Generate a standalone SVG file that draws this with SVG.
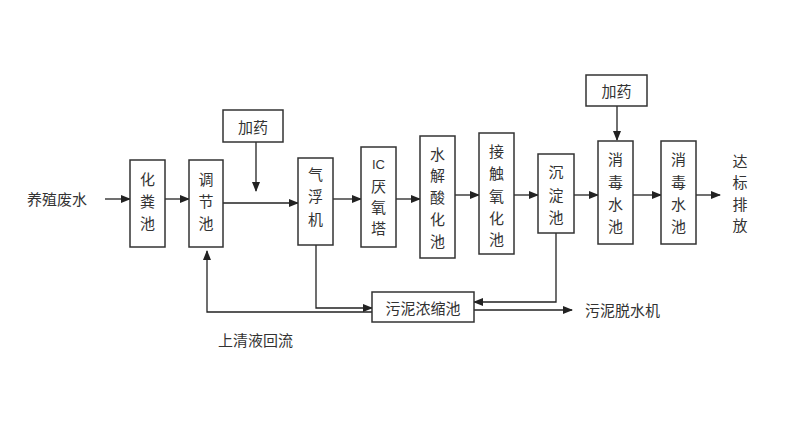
<svg xmlns="http://www.w3.org/2000/svg" width="800" height="434" viewBox="0 0 800 434">
<defs>
<marker id="ah" markerWidth="10" markerHeight="8" refX="9" refY="4" orient="auto" markerUnits="userSpaceOnUse">
<path d="M0,0 L10,4 L0,8 Z" fill="#222"/>
</marker>
<style>
.box{fill:#fff;stroke:#333;stroke-width:1.5}
.t{font-family:"Noto Sans CJK SC","Noto Sans CJK JP",sans-serif;font-size:15px;fill:#333;text-anchor:middle;dominant-baseline:central}
.tl{font-family:"Noto Sans CJK SC","Noto Sans CJK JP",sans-serif;font-size:15px;fill:#333;dominant-baseline:central}
.c{fill:none;stroke:#222;stroke-width:1.3;marker-end:url(#ah)}
.l{fill:none;stroke:#222;stroke-width:1.3}
</style>
</defs>
<rect width="800" height="434" fill="#fff"/>
<g id="connectors">
<path class="c" d="M105,199 H130"/>
<path class="c" d="M165,199 H189"/>
<path class="c" d="M223,203 H298"/>
<path class="c" d="M256,142 V191"/>
<path class="c" d="M333,199 H361"/>
<path class="c" d="M396,199 H420"/>
<path class="c" d="M455,195 H479"/>
<path class="c" d="M514,195 H538"/>
<path class="c" d="M574,195 H598"/>
<path class="c" d="M617,106 V140"/>
<path class="c" d="M633,195 H661"/>
<path class="c" d="M696,195 H720"/>
<path class="c" d="M316,245 V308 H372"/>
<path class="c" d="M556,233 V302 H474"/>
<path class="c" d="M474,310 H572"/>
<path class="c" d="M372,312 H207 V251"/>
</g>
<g id="src"><text class="tl" x="27" y="198">养殖废水</text></g>
<g id="n1"><rect class="box" x="130" y="160" width="35" height="87"/>
<text class="t" x="147.5" y="178">化</text><text class="t" x="147.5" y="200">粪</text><text class="t" x="147.5" y="222">池</text></g>
<g id="n2"><rect class="box" x="189" y="160" width="34" height="87"/>
<text class="t" x="206" y="178">调</text><text class="t" x="206" y="200">节</text><text class="t" x="206" y="222">池</text></g>
<g id="dose1"><rect class="box" x="223" y="110" width="60" height="32"/>
<text class="t" x="253" y="126">加药</text></g>
<g id="n3"><rect class="box" x="298" y="158" width="35" height="87"/>
<text class="t" x="315.5" y="173">气</text><text class="t" x="315.5" y="195">浮</text><text class="t" x="315.5" y="218">机</text></g>
<g id="n4"><rect class="box" x="361" y="147" width="35" height="100"/>
<text class="t" x="378.5" y="164" style="font-family:'Liberation Sans',sans-serif;font-size:13px">IC</text><text class="t" x="378.5" y="185">厌</text><text class="t" x="378.5" y="206">氧</text><text class="t" x="378.5" y="227">塔</text></g>
<g id="n5"><rect class="box" x="420" y="136" width="35" height="122"/>
<text class="t" x="437.5" y="153">水</text><text class="t" x="437.5" y="174">解</text><text class="t" x="437.5" y="196">酸</text><text class="t" x="437.5" y="218">化</text><text class="t" x="437.5" y="240">池</text></g>
<g id="n6"><rect class="box" x="479" y="133" width="35" height="121"/>
<text class="t" x="496.5" y="150">接</text><text class="t" x="496.5" y="172">触</text><text class="t" x="496.5" y="195">氧</text><text class="t" x="496.5" y="217">化</text><text class="t" x="496.5" y="238">池</text></g>
<g id="n7"><rect class="box" x="538" y="154" width="36" height="79"/>
<text class="t" x="556" y="171">沉</text><text class="t" x="556" y="194">淀</text><text class="t" x="556" y="216">池</text></g>
<g id="dose2"><rect class="box" x="586" y="75" width="61" height="31"/>
<text class="t" x="616.5" y="90.5">加药</text></g>
<g id="n8"><rect class="box" x="598" y="141" width="35" height="103"/>
<text class="t" x="615.5" y="158">消</text><text class="t" x="615.5" y="181">毒</text><text class="t" x="615.5" y="203">水</text><text class="t" x="615.5" y="225">池</text></g>
<g id="n9"><rect class="box" x="661" y="141" width="35" height="103"/>
<text class="t" x="678.5" y="158">消</text><text class="t" x="678.5" y="181">毒</text><text class="t" x="678.5" y="203">水</text><text class="t" x="678.5" y="225">池</text></g>
<g id="out"><text class="t" x="740" y="160">达</text><text class="t" x="740" y="181">标</text><text class="t" x="740" y="203">排</text><text class="t" x="740" y="224">放</text></g>
<g id="sludge"><rect class="box" x="372" y="292" width="102" height="30"/>
<text class="t" x="423" y="307">污泥浓缩池</text></g>
<g id="dewater"><text class="tl" x="585" y="309">污泥脱水机</text></g>
<g id="reflux"><text class="tl" x="218" y="339">上清液回流</text></g>
</svg>
